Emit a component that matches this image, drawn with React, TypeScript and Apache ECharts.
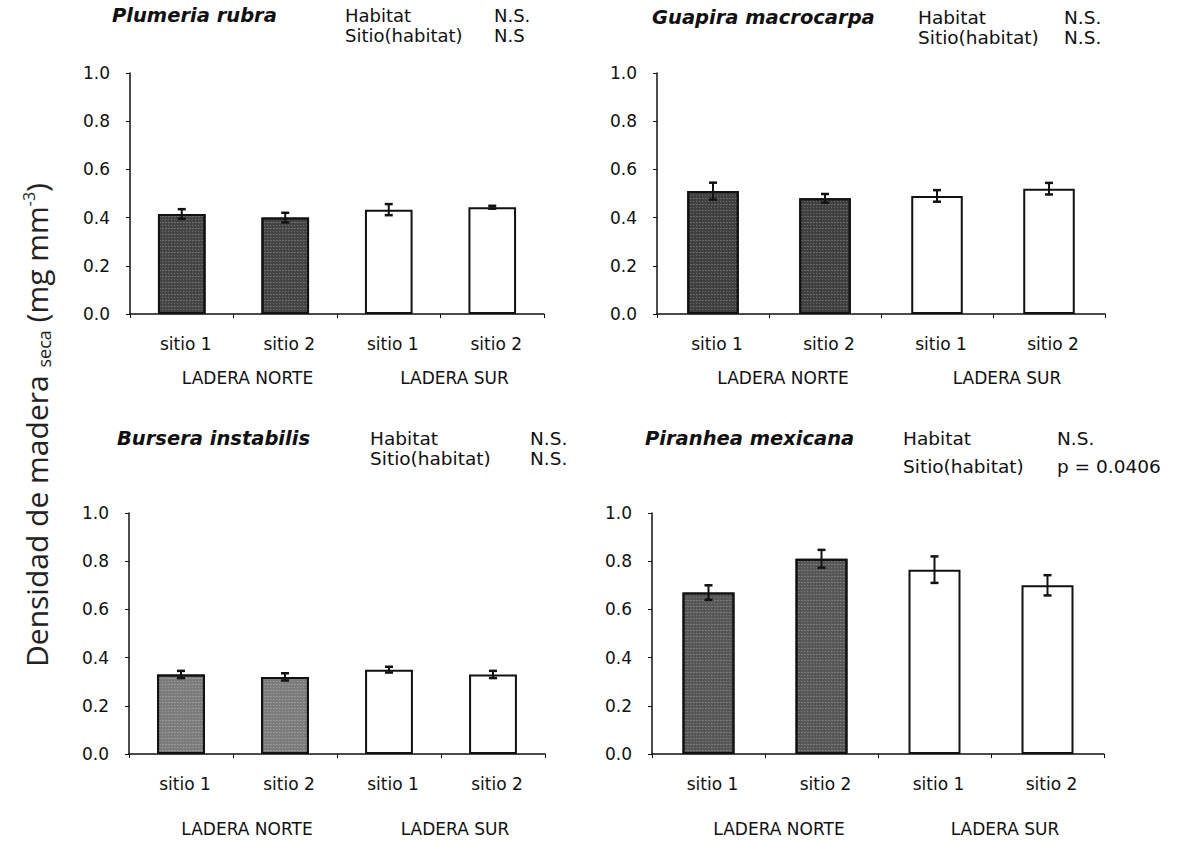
import React, { useEffect, useRef } from "react";
import * as echarts from "echarts";

const sites = ["sitio 1", "sitio 2", "sitio 1", "sitio 2"];
const habitats = ["LADERA NORTE", "LADERA SUR"];

const species = ["Plumeria rubra", "Guapira macrocarpa", "Bursera instabilis", "Piranhea mexicana"];
const habitatTest = ["N.S.", "N.S.", "N.S.", "N.S."];
const siteTest = ["N.S", "N.S.", "N.S.", "p = 0.0406"];

const plumeriaMean = [0.415, 0.4, 0.433, 0.443];
const plumeriaErr = [0.02, 0.02, 0.023, 0.006];
const guapiraMean = [0.51, 0.48, 0.49, 0.52];
const guapiraErr = [0.035, 0.018, 0.024, 0.024];
const burseraMean = [0.33, 0.32, 0.35, 0.33];
const burseraErr = [0.015, 0.015, 0.012, 0.015];
const piranheaMean = [0.67, 0.81, 0.765, 0.7];
const piranheaErr = [0.03, 0.037, 0.055, 0.042];

const means = [plumeriaMean, guapiraMean, burseraMean, piranheaMean];
const errs = [plumeriaErr, guapiraErr, burseraErr, piranheaErr];

const FONT = "DejaVu Sans";

export default function App() {
  const ref = useRef<HTMLDivElement>(null);
  useEffect(() => {
    if (!ref.current) return;
    const chart = echarts.init(ref.current, null, { renderer: "svg" });

    const grids = [
      { left: 130, top: 73, width: 414, height: 241 },
      { left: 657, top: 73, width: 448, height: 241 },
      { left: 129, top: 513, width: 416, height: 241 },
      { left: 652, top: 513, width: 452, height: 241 },
    ];
    const fillColors = ["#454545", "#404040", "#7c7c7c", "#575757"];
    const catFont = 17;
    const habFont = 17;
    const habShift = 28;
    const habMargin = [55, 55, 66, 66];
    const annFont = [18, 18.5, 18.5, 18.5];
    const titleFont = 19.5;
    const titlePos = [
      { x: 112, y: 15, hx: 345, nx: 494, y2: 35 },
      { x: 652, y: 17, hx: 918, nx: 1064, y2: 37 },
      { x: 117, y: 438, hx: 370, nx: 530, y2: 458 },
      { x: 645, y: 438, hx: 903, nx: 1057, y2: 466 },
    ];
    const stipple = {
      symbol: "rect",
      symbolSize: 1,
      color: "rgba(255,255,255,0.22)",
      dashArrayX: [[1, 2], [2, 1]],
      dashArrayY: [1, 2],
      rotation: 0,
    };

    const xAxis: any[] = [];
    const yAxis: any[] = [];
    const series: any[] = [];
    const graphic: any[] = [];

    grids.forEach((g, i) => {
      xAxis.push({
        type: "category",
        gridIndex: i,
        data: sites,
        position: "bottom",
        axisLine: { show: true, lineStyle: { color: "#111", width: 1.5 } },
        axisTick: { show: true, length: 4, lineStyle: { color: "#111" } },
        axisLabel: { margin: 21, fontFamily: FONT, fontSize: catFont, color: "#111", padding: [0, 0, 0, 8] },
      });
      xAxis.push({
        type: "category",
        gridIndex: i,
        data: habitats,
        position: "bottom",
        axisLine: { show: false },
        axisTick: { show: false },
        axisLabel: {
          margin: habMargin[i],
          fontFamily: FONT,
          fontSize: habFont,
          color: "#111",
          padding: [0, 0, 0, habShift],
        },
      });
      yAxis.push({
        type: "value",
        gridIndex: i,
        min: 0,
        max: 1,
        interval: 0.2,
        splitLine: { show: false },
        axisLine: { show: true, lineStyle: { color: "#111", width: 1.5 } },
        axisTick: { show: true, length: 4, lineStyle: { color: "#111" } },
        axisLabel: {
          margin: 20,
          fontFamily: FONT,
          fontSize: 17,
          color: "#111",
          formatter: (v: number) => v.toFixed(1),
        },
      });
      series.push({
        type: "bar",
        xAxisIndex: 2 * i,
        yAxisIndex: i,
        barWidth: "46%",
        z: 2,
        data: means[i].map((v, j) => ({
          value: v,
          itemStyle: {
            color: j < 2 ? fillColors[i] : "#ffffff",
            borderColor: "#111",
            borderWidth: 2,
            decal: j < 2 ? stipple : "none",
          },
        })),
      });
      series.push({
        type: "custom",
        xAxisIndex: 2 * i,
        yAxisIndex: i,
        z: 5,
        encode: { x: 0, y: 1 },
        data: means[i].map((v, j) => [j, v, errs[i][j]]),
        renderItem: (params: any, api: any) => {
          const x = api.value(0);
          const y = api.value(1);
          const e = api.value(2);
          const top = api.coord([x, y + e]);
          const bot = api.coord([x, y - e]);
          const cap = 4;
          const st = { stroke: "#111", lineWidth: 2 };
          return {
            type: "group",
            children: [
              { type: "line", shape: { x1: top[0], y1: top[1], x2: bot[0], y2: bot[1] }, style: st },
              { type: "line", shape: { x1: top[0] - cap, y1: top[1], x2: top[0] + cap, y2: top[1] }, style: { stroke: "#111", lineWidth: 2.5 } },
              { type: "line", shape: { x1: bot[0] - cap, y1: bot[1], x2: bot[0] + cap, y2: bot[1] }, style: { stroke: "#111", lineWidth: 2.5 } },
            ],
          };
        },
      });

      const tp = titlePos[i];
      graphic.push({
        type: "text",
        x: tp.x,
        y: tp.y,
        style: {
          text: species[i],
          fontFamily: FONT,
          fontWeight: "bold",
          fontStyle: "italic",
          fontSize: titleFont,
          fill: "#111",
          verticalAlign: "middle",
        },
      });
      graphic.push({
        type: "text", x: tp.hx, y: tp.y,
        style: { text: "Habitat", fontFamily: FONT, fontSize: annFont[i], fill: "#111", verticalAlign: "middle" },
      });
      graphic.push({
        type: "text", x: tp.nx, y: tp.y,
        style: { text: habitatTest[i], fontFamily: FONT, fontSize: annFont[i], fill: "#111", verticalAlign: "middle" },
      });
      graphic.push({
        type: "text", x: tp.hx, y: tp.y2,
        style: { text: "Sitio(habitat)", fontFamily: FONT, fontSize: annFont[i], fill: "#111", verticalAlign: "middle" },
      });
      graphic.push({
        type: "text", x: tp.nx, y: tp.y2,
        style: { text: siteTest[i], fontFamily: FONT, fontSize: annFont[i], fill: "#111", verticalAlign: "middle" },
      });
    });

    graphic.push({
      type: "text",
      x: 36,
      y: 425,
      rotation: Math.PI / 2,
      style: {
        text: "{m|Densidad de madera }{s|seca}{m| (mg mm}{p|-3}{m|)}",
        align: "center",
        verticalAlign: "middle",
        fill: "#222",
        rich: {
          m: { fontFamily: "Open Sans", fontSize: 30, fill: "#222" },
          s: { fontFamily: "Open Sans", fontSize: 18, fill: "#222", padding: [15, 0, 0, 0] },
          p: { fontFamily: "Open Sans", fontSize: 16, fill: "#222", padding: [0, 0, 15, 0] },
        },
      },
    });

    chart.setOption({
      animation: false,
      backgroundColor: "#ffffff",
      aria: { enabled: true, decal: { show: true } },
      grid: grids,
      xAxis,
      yAxis,
      series,
      graphic,
    });
    return () => chart.dispose();
  }, []);
  return (
    <div
      ref={ref}
      style={{ position: "fixed", left: 0, top: 0, width: 1179, height: 841 }}
    />
  );
}
